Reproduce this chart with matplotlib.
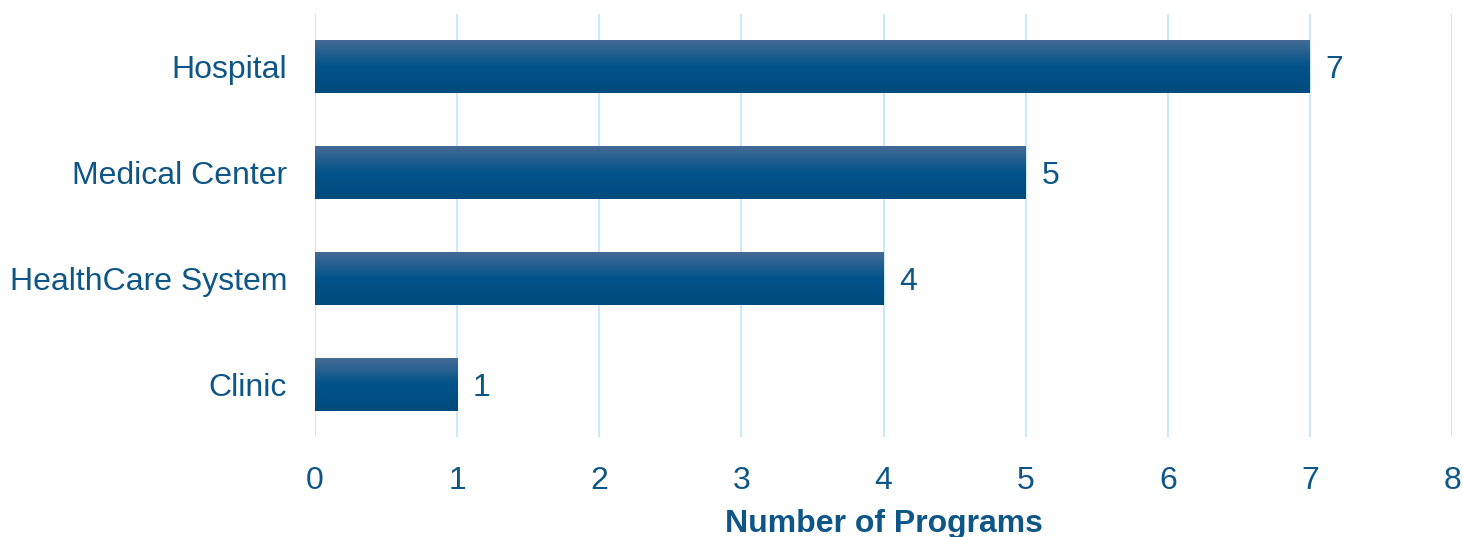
import numpy as np
import matplotlib
matplotlib.use("Agg")
import matplotlib.pyplot as plt
from matplotlib.colors import LinearSegmentedColormap

categories = ["Clinic", "HealthCare System", "Medical Center", "Hospital"]
programs = [1, 4, 5, 7]

text_color = "#0d5687"
grid_color = "#cbe9fb"

plt.rcParams['font.family'] = ['Liberation Sans', 'DejaVu Sans']

fig = plt.figure(figsize=(14.63, 5.37), dpi=100)
ax = fig.add_axes([0.2153, 0.1862, 0.7772, 0.7877])

ypos = np.arange(len(categories))
bars = ax.barh(ypos, programs, height=0.5, color="none", zorder=3)

# vertical gradient fill for each bar
grad_cmap = LinearSegmentedColormap.from_list(
    "bar", [(0.0, "#456b95"), (0.5, "#00538a"), (1.0, "#004b7d")])
grad = np.linspace(0, 1, 256).reshape(-1, 1)
for b in bars:
    x0, y0 = b.get_x(), b.get_y()
    w, h = b.get_width(), b.get_height()
    ax.imshow(grad, cmap=grad_cmap, aspect="auto", origin="upper",
              extent=(x0, x0 + w, y0, y0 + h), zorder=3)

for y, v in zip(ypos, programs):
    ax.text(v + 0.11, y, str(v), va="center_baseline", ha="left",
            fontsize=23, color=text_color)

ax.set_xlim(0, 8)
ax.set_ylim(-0.5, 3.5)
ax.set_xticks(range(0, 9))
ax.set_yticks(ypos)
ax.set_yticklabels(categories)
ax.tick_params(axis="both", length=0, labelsize=23, colors=text_color)
ax.tick_params(axis="x", pad=21)
ax.tick_params(axis="y", pad=20)
ax.grid(axis="x", color=grid_color, linewidth=1.5, zorder=0)
ax.set_axisbelow(True)
for s in ax.spines.values():
    s.set_visible(False)

ax.set_xlabel("Number of Programs", fontsize=23, fontweight="bold",
              color=text_color, labelpad=9)

fig.savefig("out.png", dpi=100)
